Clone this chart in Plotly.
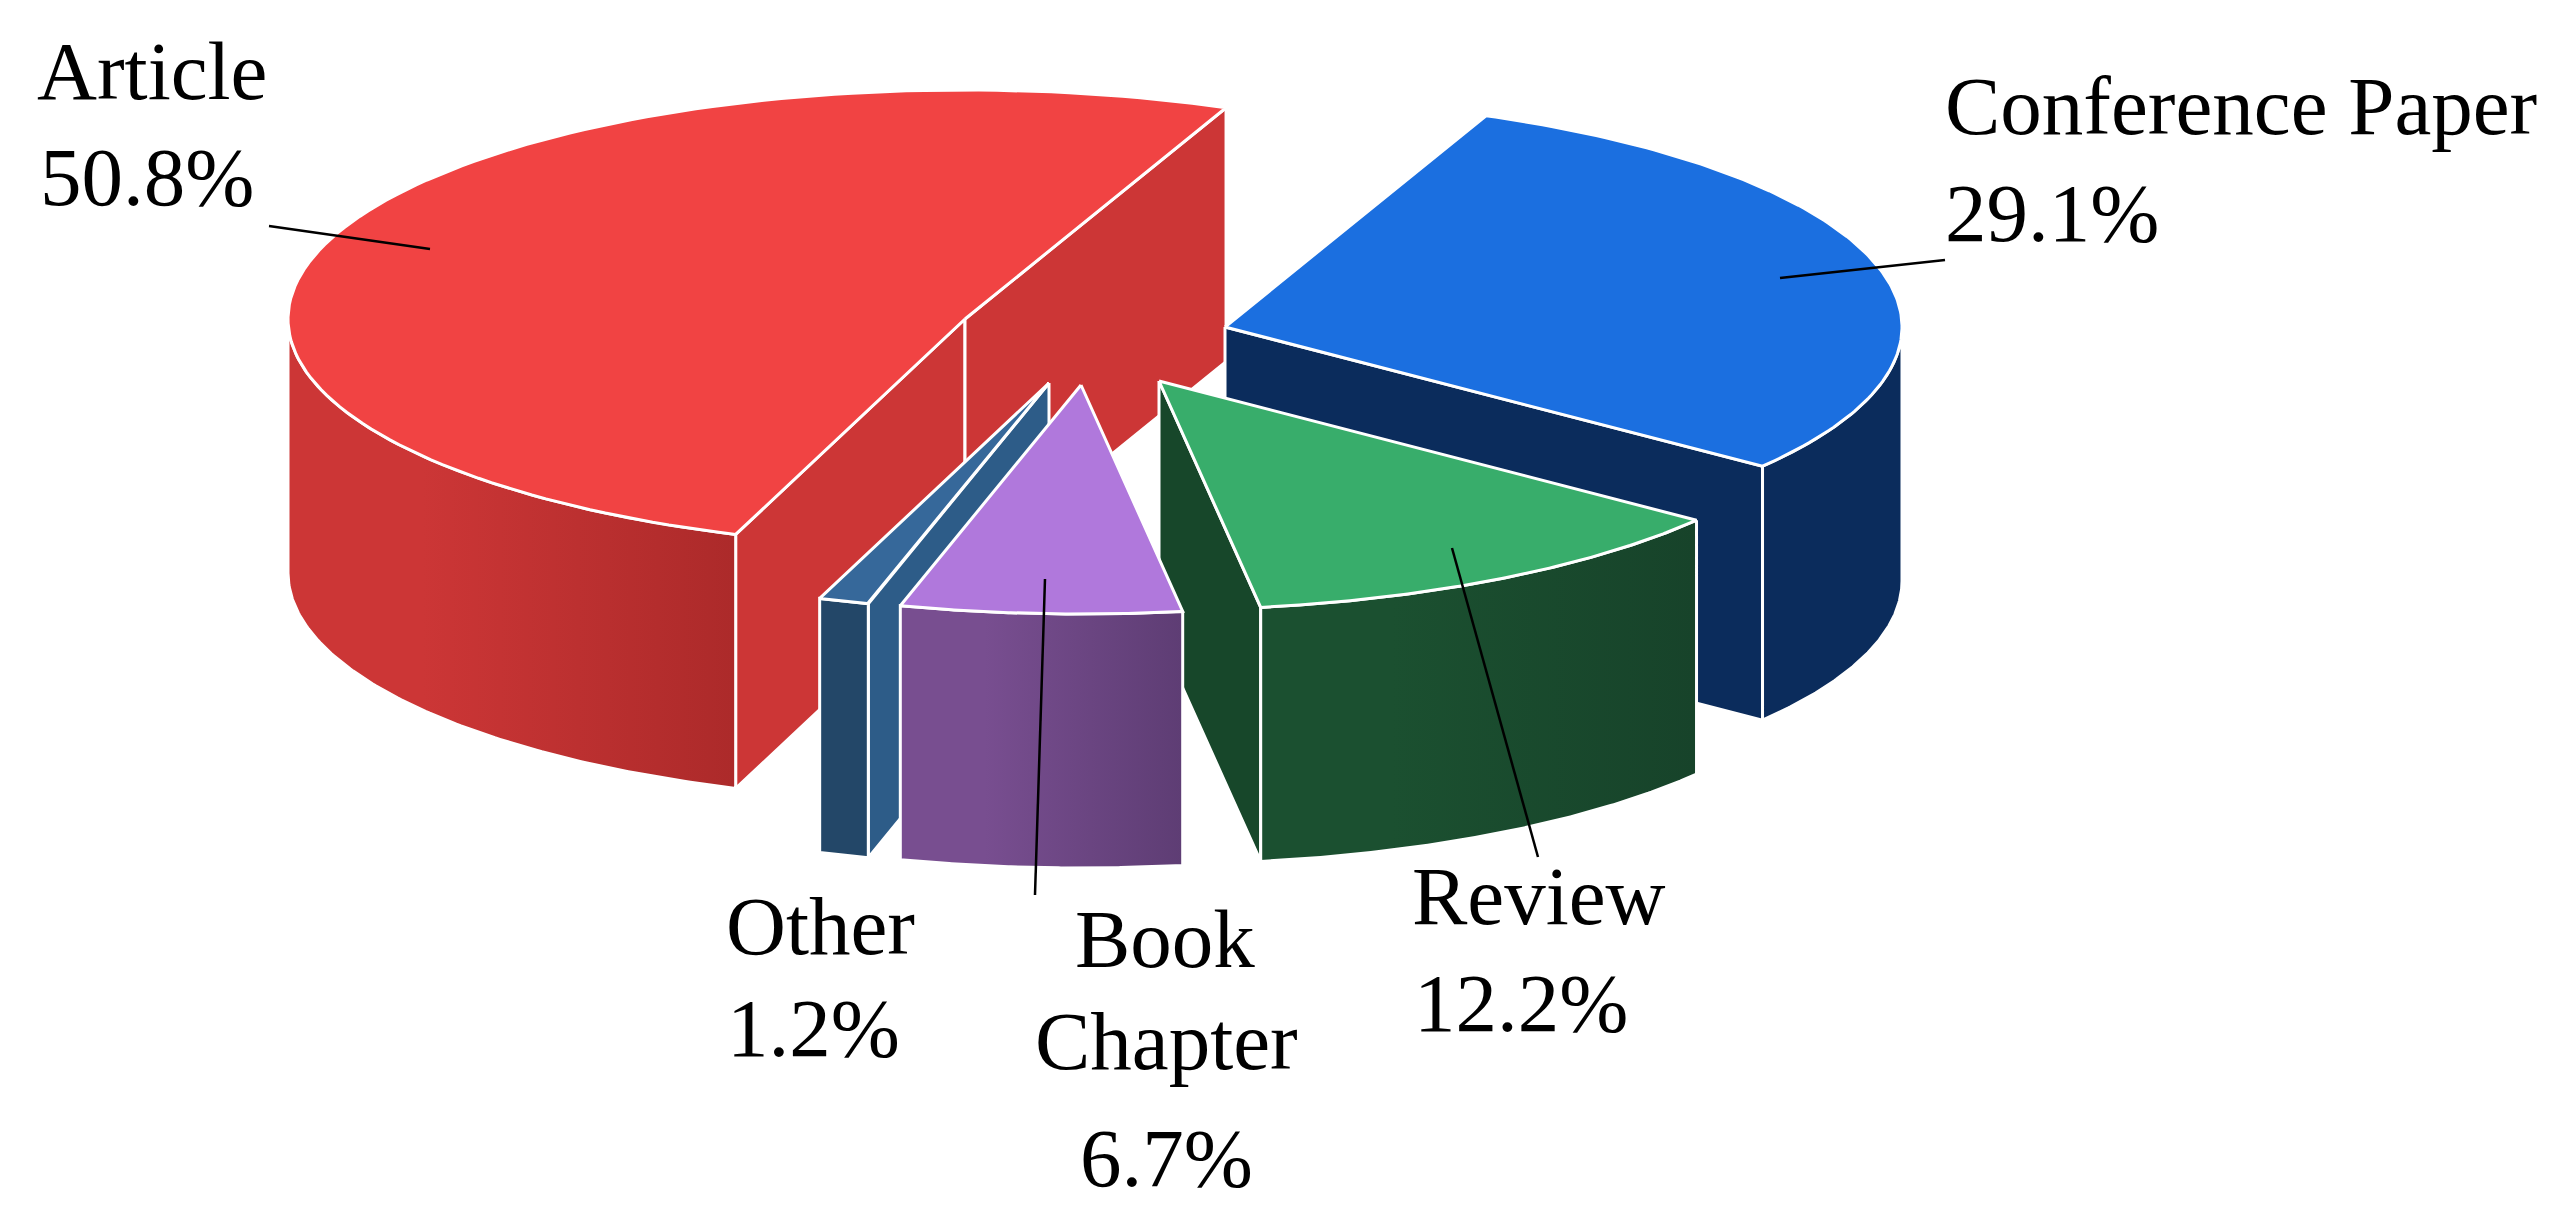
import numpy as np
import plotly.graph_objects as go

# slice data
categories = ["Article", "Conference Paper", "Review", "Book Chapter", "Other"]
values = [50.8, 29.1, 12.2, 6.7, 1.2]

# look of the 3d pie
top_colors = ["#F14343", "#1B6FE0", "#38AD6B", "#B078DC", "#36689A"]
wall_colors = ["#CC3636", "#0B2C5C", "#17472A", "#5E3D74", "#2D5C88"]
outer_left = ["#CC3636", "#0B2C5C", "#1B5030", "#784E90", "#234768"]
outer_right = ["#AC2A2A", "#0B2C5C", "#17432A", "#5E3D74", "#234768"]
apex_x = [965, 1225, 1159, 1081, 1049]
apex_y = [319, 327, 381, 385, 383]
draw_order = [0, 1, 2, 4, 3]
start_angle = -160.2
rx, ry = 677, 229
depth = 254
edge_w = 3

# labels, one entry per text line
label_lines = ["Article", "50.8%", "Conference Paper", "29.1%", "Review", "12.2%",
               "Book", "Chapter", "6.7%", "Other", "1.2%"]
label_x = [37, 40, 1945, 1945, 1412, 1414, 1075, 1035, 1080, 726, 727]
label_base = [98, 204, 133, 240, 923, 1030, 966, 1068, 1185, 953, 1055]

# leader lines x0, y0, x1, y1
leaders = [(269, 226, 430, 249), (1945, 260, 1780, 278),
           (1452, 548, 1538, 857), (1045, 579, 1035, 895)]

font_size = 83
base_shift = 19


def arc(cx, cy, a0, a1):
    t = np.radians(np.linspace(a0, a1, 120))
    return cx + rx * np.sin(t), cy - ry * np.cos(t)


def poly(fig, xs, ys, color, gradient=None):
    kw = dict(fillcolor=color)
    if gradient:
        kw = dict(fillgradient=dict(type="horizontal", start=gradient[0], stop=gradient[1],
                                    colorscale=[[0, gradient[2]], [0.3, gradient[2]], [1, gradient[3]]]))
    fig.add_trace(go.Scatter(x=list(xs), y=list(ys), mode="lines", fill="toself",
                             line=dict(color="white", width=edge_w),
                             hoverinfo="skip", showlegend=False, **kw))


def radial_wall(fig, cx, cy, a, color):
    ex, ey = arc(cx, cy, a, a)
    ex, ey = ex[0], ey[0]
    poly(fig, [cx, ex, ex, cx, cx], [cy, ey, ey + depth, cy + depth, cy], color)


fig = go.Figure()
a_from = np.concatenate([[0], np.cumsum(values)[:-1]]) * 3.6 + start_angle
a_to = np.cumsum(values) * 3.6 + start_angle

for i in draw_order:
    cx, cy = apex_x[i], apex_y[i]
    a0, a1 = a_from[i], a_to[i]
    # only the radial walls that face the viewer
    if np.sin(np.radians(a0)) < 0:
        radial_wall(fig, cx, cy, a0, wall_colors[i])
    if np.sin(np.radians(a1)) > 0:
        radial_wall(fig, cx, cy, a1, wall_colors[i])
    # rim wall is the front half only
    w0, w1 = a0, a1
    if a1 < 90 and a0 < -90:
        w1 = -90
    elif a0 < 90:
        w0 = 90
    if w0 < w1 and not (a0 > 90 and a1 < 90):
        ax, ay = arc(cx, cy, w0, w1)
        xs = np.concatenate([ax, ax[::-1], ax[:1]])
        ys = np.concatenate([ay, ay[::-1] + depth, ay[:1]])
        poly(fig, xs, ys, outer_left[i],
             gradient=(float(ax.min()), float(ax.max()), outer_left[i], outer_right[i]))
    # top face
    ax, ay = arc(cx, cy, a0, a1)
    poly(fig, np.concatenate([[cx], ax, [cx]]), np.concatenate([[cy], ay, [cy]]), top_colors[i])

for x0, y0, x1, y1 in leaders:
    fig.add_shape(type="line", x0=x0, y0=y0, x1=x1, y1=y1, line=dict(color="black", width=2.5))

for txt, x, y in zip(label_lines, label_x, label_base):
    fig.add_annotation(x=x, y=y + base_shift, text=txt, showarrow=False, xanchor="left", yanchor="bottom",
                       borderpad=0, borderwidth=0,
                       font=dict(family="Liberation Serif", size=font_size, color="black"))

fig.update_xaxes(range=[0, 2575], visible=False)
fig.update_yaxes(range=[1215, 0], visible=False)
fig.update_layout(width=2575, height=1215, margin=dict(l=0, r=0, t=0, b=0),
                  plot_bgcolor="white", paper_bgcolor="white", showlegend=False)

fig.write_html("out.html", config={"displayModeBar": False},
               post_script="document.body.style.margin='0';")
